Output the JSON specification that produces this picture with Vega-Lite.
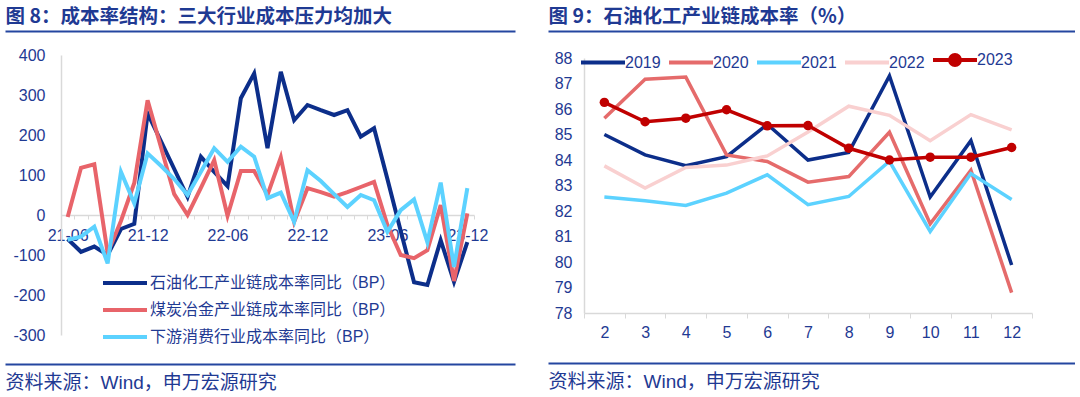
{
  "$schema": "https://vega.github.io/schema/vega-lite/v6.json",
  "background": "white",
  "padding": {"left": 5, "right": 0, "top": 6, "bottom": 0},
  "config": {
    "view": {"stroke": null},
    "font": "Liberation Sans, Noto Sans CJK SC",
    "axis": {"labelFont": "Liberation Sans", "titleFont": "Noto Sans CJK SC", "grid": false}
  },
  "datasets": {
    "left": [
      {"m": "21-06", "石油化工产业链成本率同比（BP）": -60, "煤炭冶金产业链成本率同比（BP）": -5, "下游消费行业成本率同比（BP）": -62},
      {"m": "21-07", "石油化工产业链成本率同比（BP）": -92, "煤炭冶金产业链成本率同比（BP）": 118, "下游消费行业成本率同比（BP）": -54},
      {"m": "21-08", "石油化工产业链成本率同比（BP）": -79, "煤炭冶金产业链成本率同比（BP）": 127, "下游消费行业成本率同比（BP）": -29},
      {"m": "21-09", "石油化工产业链成本率同比（BP）": -100, "煤炭冶金产业链成本率同比（BP）": -95, "下游消费行业成本率同比（BP）": -121},
      {"m": "21-10", "石油化工产业链成本率同比（BP）": -35, "煤炭冶金产业链成本率同比（BP）": -15, "下游消费行业成本率同比（BP）": 108},
      {"m": "21-11", "石油化工产业链成本率同比（BP）": -22, "煤炭冶金产业链成本率同比（BP）": 80, "下游消费行业成本率同比（BP）": 29},
      {"m": "21-12", "石油化工产业链成本率同比（BP）": 254, "煤炭冶金产业链成本率同比（BP）": 287, "下游消费行业成本率同比（BP）": 154},
      {"m": "22-01", "石油化工产业链成本率同比（BP）": 185, "煤炭冶金产业链成本率同比（BP）": 170, "下游消费行业成本率同比（BP）": 123},
      {"m": "22-02", "石油化工产业链成本率同比（BP）": 115, "煤炭冶金产业链成本率同比（BP）": 52, "下游消费行业成本率同比（BP）": 90},
      {"m": "22-03", "石油化工产业链成本率同比（BP）": 45, "煤炭冶金产业链成本率同比（BP）": 0, "下游消费行业成本率同比（BP）": 50},
      {"m": "22-04", "石油化工产业链成本率同比（BP）": 146, "煤炭冶金产业链成本率同比（BP）": 68, "下游消费行业成本率同比（BP）": 108},
      {"m": "22-05", "石油化工产业链成本率同比（BP）": 108, "煤炭冶金产业链成本率同比（BP）": 137, "下游消费行业成本率同比（BP）": 167},
      {"m": "22-06", "石油化工产业链成本率同比（BP）": 72, "煤炭冶金产业链成本率同比（BP）": -2, "下游消费行业成本率同比（BP）": 133},
      {"m": "22-07", "石油化工产业链成本率同比（BP）": 292, "煤炭冶金产业链成本率同比（BP）": 110, "下游消费行业成本率同比（BP）": 171},
      {"m": "22-08", "石油化工产业链成本率同比（BP）": 354, "煤炭冶金产业链成本率同比（BP）": 110, "下游消费行业成本率同比（BP）": 146},
      {"m": "22-09", "石油化工产业链成本率同比（BP）": 167, "煤炭冶金产业链成本率同比（BP）": 50, "下游消费行业成本率同比（BP）": 42},
      {"m": "22-10", "石油化工产业链成本率同比（BP）": 358, "煤炭冶金产业链成本率同比（BP）": 144, "下游消费行业成本率同比（BP）": 56},
      {"m": "22-11", "石油化工产业链成本率同比（BP）": 237, "煤炭冶金产业链成本率同比（BP）": -17, "下游消费行业成本率同比（BP）": -17},
      {"m": "22-12", "石油化工产业链成本率同比（BP）": 275, "煤炭冶金产业链成本率同比（BP）": 67, "下游消费行业成本率同比（BP）": 112},
      {"m": "23-01", "石油化工产业链成本率同比（BP）": 262, "煤炭冶金产业链成本率同比（BP）": 57, "下游消费行业成本率同比（BP）": 85},
      {"m": "23-02", "石油化工产业链成本率同比（BP）": 250, "煤炭冶金产业链成本率同比（BP）": 46, "下游消费行业成本率同比（BP）": 52},
      {"m": "23-03", "石油化工产业链成本率同比（BP）": 262, "煤炭冶金产业链成本率同比（BP）": 57, "下游消费行业成本率同比（BP）": 20},
      {"m": "23-04", "石油化工产业链成本率同比（BP）": 196, "煤炭冶金产业链成本率同比（BP）": 70, "下游消费行业成本率同比（BP）": 50},
      {"m": "23-05", "石油化工产业链成本率同比（BP）": 217, "煤炭冶金产业链成本率同比（BP）": 83, "下游消费行业成本率同比（BP）": 37},
      {"m": "23-06", "石油化工产业链成本率同比（BP）": 90, "煤炭冶金产业链成本率同比（BP）": -25, "下游消费行业成本率同比（BP）": -42},
      {"m": "23-07", "石油化工产业链成本率同比（BP）": -40, "煤炭冶金产业链成本率同比（BP）": -100, "下游消费行业成本率同比（BP）": 12},
      {"m": "23-08", "石油化工产业链成本率同比（BP）": -168, "煤炭冶金产业链成本率同比（BP）": -108, "下游消费行业成本率同比（BP）": 39},
      {"m": "23-09", "石油化工产业链成本率同比（BP）": -175, "煤炭冶金产业链成本率同比（BP）": -88, "下游消费行业成本率同比（BP）": -68},
      {"m": "23-10", "石油化工产业链成本率同比（BP）": -63, "煤炭冶金产业链成本率同比（BP）": 25, "下游消费行业成本率同比（BP）": 81},
      {"m": "23-11", "石油化工产业链成本率同比（BP）": -167, "煤炭冶金产业链成本率同比（BP）": -165, "下游消费行业成本率同比（BP）": -130},
      {"m": "23-12", "石油化工产业链成本率同比（BP）": -68, "煤炭冶金产业链成本率同比（BP）": 4, "下游消费行业成本率同比（BP）": 67}
    ],
    "right": [
      {"month": "2", "2019": 85.0, "2020": 85.64, "2021": 82.55, "2022": 83.77, "2023": 86.26},
      {"month": "3", "2019": 84.2, "2020": 87.17, "2021": 82.4, "2022": 82.9, "2023": 85.5},
      {"month": "4", "2019": 83.78, "2020": 87.25, "2021": 82.22, "2022": 83.71, "2023": 85.64},
      {"month": "5", "2019": 84.13, "2020": 84.2, "2021": 82.7, "2022": 83.8, "2023": 85.97},
      {"month": "6", "2019": 85.4, "2020": 83.94, "2021": 83.42, "2022": 84.16, "2023": 85.34},
      {"month": "7", "2019": 84.0, "2020": 83.13, "2021": 82.25, "2022": 85.1, "2023": 85.35},
      {"month": "8", "2019": 84.3, "2020": 83.35, "2021": 82.57, "2022": 86.11, "2023": 84.46},
      {"month": "9", "2019": 87.3, "2020": 85.09, "2021": 83.95, "2022": 85.75, "2023": 84.0},
      {"month": "10", "2019": 82.55, "2020": 81.5, "2021": 81.2, "2022": 84.76, "2023": 84.11},
      {"month": "11", "2019": 84.76, "2020": 83.6, "2021": 83.47, "2022": 85.78, "2023": 84.11},
      {"month": "12", "2019": 79.88, "2020": 78.8, "2021": 82.45, "2022": 85.18, "2023": 84.49}
    ]
  },
  "spacing": 33,
  "resolve": {"scale": {"color": "independent"}, "legend": {"color": "independent"}},
  "hconcat": [
    {
      "spacing": 12,
      "vconcat": [
        {
          "width": 510, "height": 1,
          "data": {"values": [{"u": 0.5}]},
          "mark": {"type": "point", "opacity": 0},
          "encoding": {
            "x": {"field": "u", "type": "quantitative", "scale": {"domain": [0, 1]},
              "axis": {"orient": "top", "ticks": false, "labels": false, "domainColor": "#2446A0", "domainWidth": 2,
                "title": "图 8：成本率结构：三大行业成本压力均加大", "titleAnchor": "start", "titleAlign": "left",
                "titleFontSize": 19.5, "titleFontWeight": "bold", "titleColor": "#1F3A93", "titlePadding": 5, "titleFont": "Noto Sans CJK SC"}}
          }
        },
        {
          "width": 510, "height": 280,
          "data": {"name": "left"},
          "transform": [{"fold": ["石油化工产业链成本率同比（BP）", "煤炭冶金产业链成本率同比（BP）", "下游消费行业成本率同比（BP）"], "as": ["k", "v"]}],
          "mark": {"type": "line", "strokeWidth": 4},
          "encoding": {
            "x": {"field": "m", "type": "ordinal", "sort": null,
              "scale": {"type": "band", "range": [56, 469], "paddingInner": 0, "paddingOuter": 0},
              "axis": {"orient": "bottom", "offset": -120, "title": null, "labelAngle": 0, "labelOverlap": false,
                "domainColor": "#D9D9D9", "domainWidth": 1.5, "tickColor": "#D9D9D9", "tickSize": 4, "tickBand": "extent",
                "labelPadding": 8, "labelFontSize": 16, "labelColor": "#1F3A93",
                "labelExpr": "indexof(['21-06','21-12','22-06','22-12','23-06','23-12'], datum.value) >= 0 ? datum.value : ''"}},
            "y": {"field": "v", "type": "quantitative",
              "scale": {"domain": [-300, 400], "nice": false, "zero": false},
              "axis": {"values": [-300, -200, -100, 0, 100, 200, 300, 400], "title": null, "ticks": false, "offset": -56,
                "domainColor": "#D9D9D9", "domainWidth": 1.5, "labelPadding": 16, "labelFontSize": 16, "labelColor": "#1F3A93",
                "labelExpr": "'' + datum.value"}},
            "color": {"field": "k", "type": "nominal", "sort": null,
              "scale": {"domain": ["石油化工产业链成本率同比（BP）", "煤炭冶金产业链成本率同比（BP）", "下游消费行业成本率同比（BP）"],
                "range": ["#0C2E8A", "#E8646A", "#5CD2FF"]},
              "legend": {"title": null, "orient": "none", "legendX": 112, "legendY": 244, "direction": "vertical",
                "symbolType": "M-4,0H4", "symbolSize": 121, "symbolStrokeWidth": 4, "labelOffset": 17,
                "labelFontSize": 16, "labelColor": "#1F3A93", "labelFont": "Liberation Sans, Noto Sans CJK SC",
                "labelLimit": 400, "rowPadding": 11}}
          }
        },
        {
          "width": 510, "height": 9,
          "data": {"values": [{"u": 0.5}]},
          "mark": {"type": "point", "opacity": 0},
          "encoding": {
            "x": {"field": "u", "type": "quantitative", "scale": {"domain": [0, 1]},
              "axis": {"orient": "bottom", "ticks": false, "labels": false, "domainColor": "#2446A0", "domainWidth": 2,
                "title": "资料来源：Wind，申万宏源研究", "titleAnchor": "start", "titleAlign": "left",
                "titleFontSize": 19, "titleFontWeight": "normal", "titleColor": "#1F3A93", "titlePadding": 9,
                "titleFont": "Liberation Sans, Noto Sans CJK SC"}}
          }
        }
      ]
    },
    {
      "spacing": 14,
      "vconcat": [
        {
          "width": 527, "height": 3,
          "data": {"values": [{"u": 0.5}]},
          "mark": {"type": "point", "opacity": 0},
          "encoding": {
            "x": {"field": "u", "type": "quantitative", "scale": {"domain": [0, 1]},
              "axis": {"orient": "top", "ticks": false, "labels": false, "domainColor": "#2446A0", "domainWidth": 2,
                "title": "图 9：石油化工产业链成本率（%）", "titleAnchor": "start", "titleAlign": "left",
                "titleFontSize": 19.5, "titleFontWeight": "bold", "titleColor": "#1F3A93", "titlePadding": 5, "titleFont": "Noto Sans CJK SC"}}
          }
        },
        {
          "width": 527, "height": 255,
          "data": {"name": "right"},
          "transform": [{"fold": ["2019", "2020", "2021", "2022", "2023"], "as": ["year", "v"]}],
          "encoding": {
            "x": {"field": "month", "type": "ordinal", "sort": null,
              "scale": {"type": "band", "range": [36, 484], "paddingInner": 0, "paddingOuter": 0},
              "axis": {"title": null, "labelAngle": 0, "domainColor": "#D9D9D9", "domainWidth": 1.5, "tickColor": "#D9D9D9",
                "tickSize": 5, "tickBand": "extent", "labelPadding": 6, "labelFontSize": 16, "labelColor": "#1F3A93"}},
            "y": {"field": "v", "type": "quantitative",
              "scale": {"domain": [78, 88], "nice": false, "zero": false},
              "axis": {"values": [78, 79, 80, 81, 82, 83, 84, 85, 86, 87, 88], "title": null, "ticks": false, "offset": -36,
                "domainColor": "#D9D9D9", "domainWidth": 1.5, "labelPadding": 12, "labelFontSize": 16, "labelColor": "#1F3A93"}}
          },
          "layer": [
            {
              "mark": {"type": "line", "strokeWidth": 3.5},
              "encoding": {
                "color": {"field": "year", "type": "nominal", "sort": null,
                  "scale": {"domain": ["2019", "2020", "2021", "2022", "2023"],
                    "range": ["#0C2E8A", "#E56B6B", "#5CD2FF", "#F9D0D0", "#C00000"]},
                  "legend": {"title": null, "orient": "none", "legendX": 47, "legendY": 21, "direction": "horizontal",
                    "symbolType": "M-4,0H4", "symbolSize": 121, "symbolStrokeWidth": 4, "labelOffset": 14,
                    "labelFontSize": 16, "labelColor": "#1F3A93", "columnPadding": 0,
                    "encode": {"symbols": {"update": {
                      "shape": {"signal": "datum.value === '2023' ? 'M-4,0H4M-0.9,0A0.9,0.9 0 1,1 0.9,0A0.9,0.9 0 1,1 -0.9,0Z' : 'M-4,0H4'"},
                      "fill": {"signal": "datum.value === '2023' ? '#C00000' : 'transparent'"}}}}}}
              }
            },
            {
              "transform": [{"filter": {"field": "year", "equal": "2023"}}],
              "mark": {"type": "circle", "size": 90, "opacity": 1, "color": "#C00000"}
            }
          ]
        },
        {
          "width": 527, "height": 9,
          "data": {"values": [{"u": 0.5}]},
          "mark": {"type": "point", "opacity": 0},
          "encoding": {
            "x": {"field": "u", "type": "quantitative", "scale": {"domain": [0, 1]},
              "axis": {"orient": "bottom", "ticks": false, "labels": false, "domainColor": "#2446A0", "domainWidth": 2,
                "title": "资料来源：Wind，申万宏源研究", "titleAnchor": "start", "titleAlign": "left",
                "titleFontSize": 19, "titleFontWeight": "normal", "titleColor": "#1F3A93", "titlePadding": 9,
                "titleFont": "Liberation Sans, Noto Sans CJK SC"}}
          }
        }
      ]
    }
  ]
}
